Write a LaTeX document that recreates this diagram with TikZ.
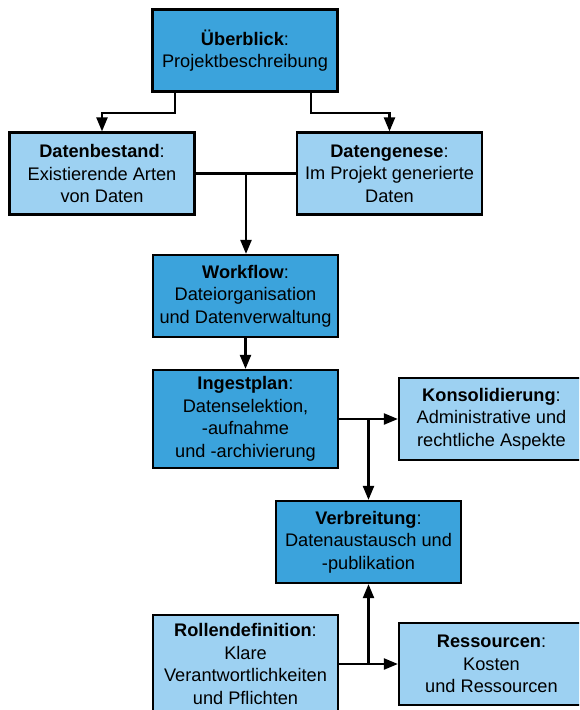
\documentclass[tikz,border=0pt]{standalone}
\usepackage{fontspec}
\setmainfont{Liberation Sans}
\usetikzlibrary{arrows.meta}
\definecolor{darkblue}{RGB}{59,163,220}
\definecolor{lightblue}{RGB}{157,209,242}
\tikzset{
  stepbox/.style={draw, line width=2.2pt, align=center, inner sep=0pt,
    minimum width=185pt, minimum height=82pt,
    font=\fontsize{18.2}{22.5}\selectfont},
  darkbox/.style={stepbox, fill=darkblue},
  lightbox/.style={stepbox, fill=lightblue},
  link/.style={line width=2.2pt},
  arrow/.style={link, -{Triangle[width=11pt,length=14pt]}}
}
\begin{document}
\begin{tikzpicture}[x=1pt, y=-1pt]
\useasboundingbox (0,0) rectangle (579,710);
\clip (0,0) rectangle (579,710);
\node[darkbox] (overview) at (245,50.5) {\textbf{Überblick}:\\ Projektbeschreibung};
\node[lightbox] (stock) at (102,173.5) {\textbf{Datenbestand}:\\ Existierende Arten\\ von Daten};
\node[lightbox] (genesis) at (389.5,173.5) {\textbf{Datengenese}:\\ Im Projekt generierte\\ Daten};
\node[darkbox] (workflow) at (245.5,296) {\textbf{Workflow}:\\ Dateiorganisation\\ und Datenverwaltung};
\node[darkbox, minimum height=98pt] (ingest) at (245.5,419) {\textbf{Ingestplan}:\\ Datenselektion,\\ -aufnahme\\ und -archivierung};
\node[lightbox] (consol) at (491.5,419) {\textbf{Konsolidierung}:\\ Administrative und\\ rechtliche Aspekte};
\node[darkbox] (spread) at (368.5,542) {\textbf{Verbreitung}:\\ Datenaustausch und\\ -publikation};
\node[lightbox, minimum height=98pt] (roles) at (245.5,664) {\textbf{Rollendefinition}:\\ Klare\\ Verantwortlichkeiten\\ und Pflichten};
\node[lightbox] (funds) at (491.5,664) {\textbf{Ressourcen}:\\ Kosten\\ und Ressourcen};
\coordinate (join) at (246,173.5);
\draw[arrow] ([xshift=-70pt]overview.south) -- ++(0,20) -| (stock.north);
\draw[arrow] ([xshift=66pt]overview.south) -- ++(0,20) -| (genesis.north);
\draw[link] (stock) -- (genesis);
\draw[arrow] (join) -- (join |- workflow.north);
\draw[arrow] (workflow) -- (ingest);
\draw[arrow] (ingest) -- (consol);
\draw[arrow] (ingest -| spread) -- (spread);
\draw[arrow] (roles) -- (funds);
\draw[arrow] (roles -| spread) -- (spread);
\end{tikzpicture}
\end{document}
